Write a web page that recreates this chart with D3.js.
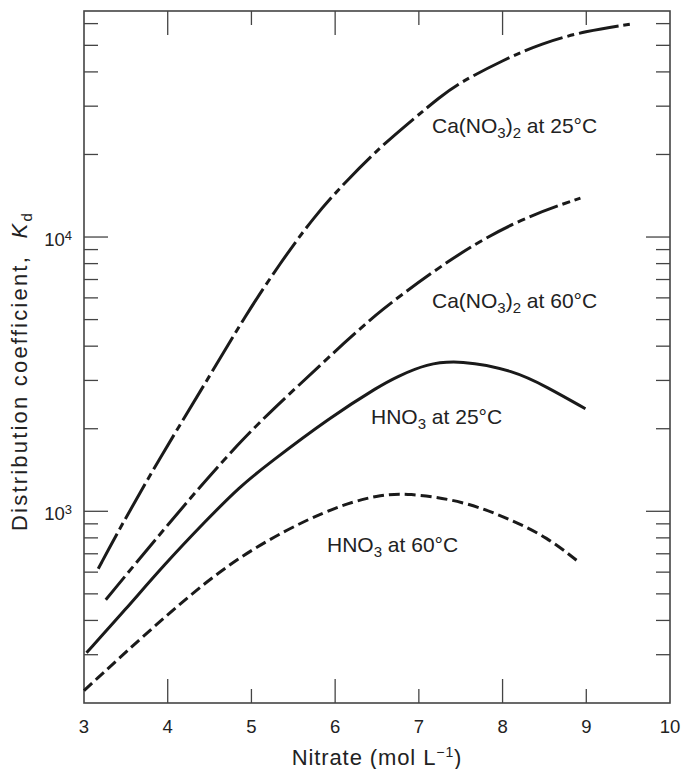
<!DOCTYPE html>
<html>
<head>
<meta charset="utf-8">
<script src="https://cdn.jsdelivr.net/npm/d3@7"></script>
<style>
  body { margin: 0; background: #fff; }
  text { font-family: "Liberation Sans", Arial, Helvetica, sans-serif; fill: #222; }
</style>
</head>
<body>
<svg></svg>
<script>
// values
var ca25X = [3.17, 3.43, 3.91, 4.47, 4.94, 5.34, 5.74, 6.14, 6.54, 6.94, 7.25, 7.49, 8.01, 8.46, 9.0, 9.52];
var ca25Y = [617, 870, 1574, 3000, 5250, 8000, 11800, 16100, 21300, 27000, 32400, 36600, 44200, 50800, 56500, 59700];

var ca60X = [3.26, 3.99, 4.86, 5.54, 6.14, 6.54, 7.13, 7.73, 8.33, 8.93];
var ca60Y = [476, 887, 1811, 2833, 4200, 5390, 7350, 9730, 12000, 13870];

var hno25X = [3.03, 3.5, 3.95, 4.45, 4.86, 5.2, 5.94, 6.54, 6.73, 7.09, 7.49, 8.13, 8.53, 8.99];
var hno25Y = [305, 440, 635, 920, 1230, 1490, 2202, 2877, 3085, 3450, 3560, 3265, 2840, 2366];

var hno60X = [3.0, 3.99, 4.86, 5.94, 6.54, 6.85, 7.53, 8.13, 8.53, 8.89];
var hno60Y = [222, 421, 699, 1034, 1150, 1165, 1094, 925, 804, 661];

var xTicks = [3, 4, 5, 6, 7, 8, 9, 10];
var xMajor = [4, 6, 8];
var yMajor = [1000, 10000];
var yMinor = [300, 400, 500, 600, 700, 800, 900, 2000, 3000, 4000, 5000, 6000, 7000, 8000, 9000, 20000, 30000, 40000, 50000, 60000];

var width = 683, height = 769;
var mLeft = 84, mRight = 670, mTop = 11, mBottom = 703;

var svg = d3.select("svg").attr("width", width).attr("height", height);

var x = d3.scaleLinear().domain([3, 10]).range([mLeft, mRight]);
var y = d3.scaleLog().domain([200, 66700]).range([mBottom, mTop]);

var axisColor = "#444";

// ticks, all pointing inwards
var tickLen = function(big) { return big ? 24 : 14; };

xTicks.slice(1, -1).forEach(function(t) {
  var len = tickLen(xMajor.indexOf(t) >= 0);
  svg.append("line").attr("x1", x(t)).attr("x2", x(t))
     .attr("y1", mBottom).attr("y2", mBottom - len)
     .attr("stroke", axisColor).attr("stroke-width", 1.3);
  svg.append("line").attr("x1", x(t)).attr("x2", x(t))
     .attr("y1", mTop).attr("y2", mTop + len)
     .attr("stroke", axisColor).attr("stroke-width", 1.3);
});

yMajor.concat(yMinor).forEach(function(t) {
  var len = tickLen(yMajor.indexOf(t) >= 0);
  svg.append("line").attr("x1", mLeft).attr("x2", mLeft + len)
     .attr("y1", y(t)).attr("y2", y(t))
     .attr("stroke", axisColor).attr("stroke-width", 1.3);
  svg.append("line").attr("x1", mRight).attr("x2", mRight - len)
     .attr("y1", y(t)).attr("y2", y(t))
     .attr("stroke", axisColor).attr("stroke-width", 1.3);
});

// frame
svg.append("rect")
   .attr("x", mLeft).attr("y", mTop)
   .attr("width", mRight - mLeft).attr("height", mBottom - mTop)
   .attr("fill", "none").attr("stroke", axisColor).attr("stroke-width", 1.6);

// x tick labels
svg.selectAll(".xlab")
   .data(xTicks)
   .enter()
   .append("text")
   .attr("class", "xlab")
   .attr("x", function(d) { return x(d); })
   .attr("y", 733)
   .attr("text-anchor", "middle")
   .style("font-size", "18.5px")
   .text(function(d) { return d; });

// y tick labels
yMajor.forEach(function(t) {
  var lab = svg.append("text")
     .attr("x", 72).attr("y", y(t) + 9)
     .attr("text-anchor", "end")
     .style("font-size", "18.5px");
  lab.append("tspan").text("10");
  lab.append("tspan").attr("dy", -6).style("font-size", "13px").text(Math.log10(t));
});

// axis titles
var xt = svg.append("text")
   .attr("x", (mLeft + mRight) / 2).attr("y", 765)
   .attr("text-anchor", "middle")
   .style("font-size", "22px")
   .style("letter-spacing", "0.9px");
xt.append("tspan").text("Nitrate (mol L");
xt.append("tspan").attr("dy", -8).style("font-size", "14px").text("\u22121");
xt.append("tspan").attr("dy", 8).text(")");

var yt = svg.append("text")
   .attr("transform", "translate(27,371) rotate(-90)")
   .attr("text-anchor", "middle")
   .style("font-size", "22px")
   .style("letter-spacing", "2.2px");
yt.append("tspan").text("Distribution coefficient,\u00a0\u00a0");
yt.append("tspan").style("font-style", "italic").text("K");
yt.append("tspan").attr("dy", 5).style("font-size", "15px").text("d");

// curves (smoothed through the read-off points)
var line = d3.line()
   .x(function(d) { return x(d[0]); })
   .y(function(d) { return y(d[1]); })
   .curve(d3.curveBasis);

var series = [
  { xs: ca25X, ys: ca25Y, dash: "40,5,7,5" },
  { xs: ca60X, ys: ca60Y, dash: "30,5,8,5" },
  { xs: hno25X, ys: hno25Y, dash: null },
  { xs: hno60X, ys: hno60Y, dash: "11,5" }
];

series.forEach(function(s) {
  var pts = s.xs.map(function(v, i) { return [v, s.ys[i]]; });
  svg.append("path")
     .attr("d", line(pts))
     .attr("fill", "none")
     .attr("stroke", "#1a1a1a")
     .attr("stroke-width", 3)
     .attr("stroke-dasharray", s.dash);
});

// curve labels
var labels = [
  { x: 432, y: 133, parts: [["Ca(NO", 0], ["3", 1], [")", -1], ["2", 1], [" at 25\u00b0C", -1]] },
  { x: 432, y: 308, parts: [["Ca(NO", 0], ["3", 1], [")", -1], ["2", 1], [" at 60\u00b0C", -1]] },
  { x: 371, y: 424, parts: [["HNO", 0], ["3", 1], [" at 25\u00b0C", -1]] },
  { x: 327, y: 552, parts: [["HNO", 0], ["3", 1], [" at 60\u00b0C", -1]] }
];

labels.forEach(function(l) {
  var t = svg.append("text").attr("x", l.x).attr("y", l.y).style("font-size", "21px");
  l.parts.forEach(function(p) {
    var ts = t.append("tspan").text(p[0]);
    if (p[1] === 1) ts.attr("dy", 5).style("font-size", "15px");
    if (p[1] === -1) ts.attr("dy", -5);
  });
});
</script>
</body>
</html>
